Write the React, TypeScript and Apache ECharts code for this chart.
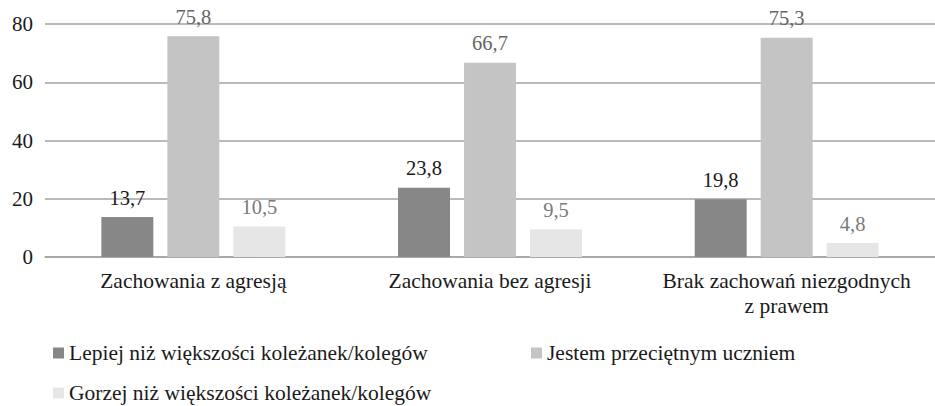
import React, { useEffect, useRef } from "react";
import * as echarts from "echarts";

const categories = ["Zachowania z agresją", "Zachowania bez agresji", "Brak zachowań niezgodnych\nz prawem"];
const seriesNames = [
  "Lepiej niż większości koleżanek/kolegów",
  "Jestem przeciętnym uczniem",
  "Gorzej niż większości koleżanek/kolegów",
];
const lepiej = [13.7, 23.8, 19.8];
const przecietny = [75.8, 66.7, 75.3];
const gorzej = [10.5, 9.5, 4.8];
const yTicks = [0, 20, 40, 60, 80];

const colors = ["#878787", "#c4c4c4", "#e6e6e6"];
const labelColors = ["#1a1a1a", "#666666", "#7a7a7a"];
const FONT = "Liberation Serif";

export default function App() {
  const ref = useRef<HTMLDivElement>(null);
  useEffect(() => {
    document.body.style.margin = "0";
    if (!ref.current) return;
    const chart = echarts.init(ref.current, undefined, { renderer: "svg" });
    const values = [lepiej, przecietny, gorzej];
    const legendText = { fontFamily: FONT, fontSize: 21.5, color: "#1a1a1a" };
    const legendBase = { itemWidth: 11, itemHeight: 11, icon: "rect", padding: 0, textStyle: legendText };
    chart.setOption({
      animation: false,
      textStyle: { fontFamily: FONT },
      grid: { left: 45, right: -5, top: 24, bottom: 149, containLabel: false },
      legend: [
        { ...legendBase, data: [seriesNames[0]], left: 53, top: 342 },
        { ...legendBase, data: [seriesNames[1]], left: 531, top: 342 },
        { ...legendBase, data: [seriesNames[2]], left: 53, top: 382 },
      ],
      xAxis: {
        type: "category",
        data: categories,
        axisLine: { show: true, lineStyle: { color: "#a3a3a3", width: 1.5 } },
        axisTick: { show: false },
        axisLabel: {
          color: "#1a1a1a",
          fontFamily: FONT,
          fontSize: 21.5,
          margin: 11,
          lineHeight: 25,
          interval: 0,
        },
      },
      yAxis: {
        type: "value",
        min: yTicks[0],
        max: yTicks[yTicks.length - 1],
        interval: 20,
        axisLine: { show: false },
        axisTick: { show: false },
        splitLine: { lineStyle: { color: "#a3a3a3", width: 1.5 } },
        axisLabel: { color: "#1a1a1a", fontFamily: FONT, fontSize: 21, margin: 12 },
      },
      series: seriesNames.map((name, i) => ({
        name,
        type: "bar",
        data: values[i],
        barGap: "27%",
        barCategoryGap: "38%",
        itemStyle: { color: colors[i] },
        label: {
          show: true,
          position: "top",
          distance: 9,
          color: labelColors[i],
          fontFamily: FONT,
          fontSize: 20.5,
          formatter: (p: any) => String(p.value).replace(".", ","),
        },
      })),
    });
    return () => chart.dispose();
  }, []);
  return <div ref={ref} style={{ width: 935, height: 406 }} />;
}
